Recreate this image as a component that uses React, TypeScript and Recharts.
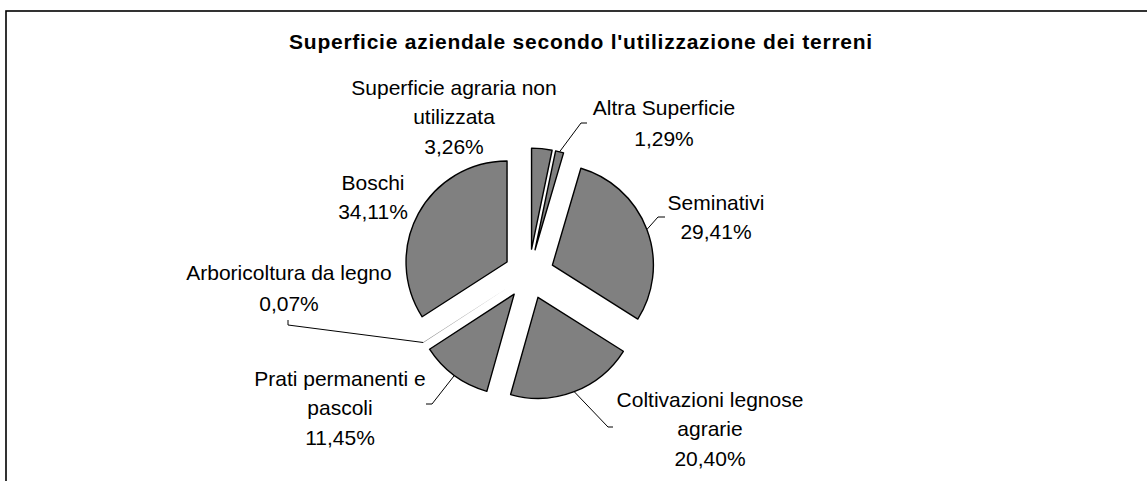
import React from 'react';
import { PieChart, Pie, Sector } from 'recharts';

// ---- data ----
const categories = [
  'Superficie agraria non utilizzata',
  'Altra Superficie',
  'Seminativi',
  'Coltivazioni legnose agrarie',
  'Prati permanenti e pascoli',
  'Arboricoltura da legno',
  'Boschi',
];
const categoryLines = [
  ['Superficie agraria non', 'utilizzata'],
  ['Altra Superficie'],
  ['Seminativi'],
  ['Coltivazioni legnose', 'agrarie'],
  ['Prati permanenti e', 'pascoli'],
  ['Arboricoltura da legno'],
  ['Boschi'],
];
const shares = [3.26, 1.29, 29.41, 20.4, 11.45, 0.07, 34.11];
const chartTitle = "Superficie aziendale secondo l'utilizzazione dei terreni";

const data = categories.map((name, i) => ({ name, value: shares[i] }));

// ---- layout (label placement relative to pie centre) ----
type LabelPos = { tx: number; ty: number; gap?: number; elbow?: [number, number]; stub?: [number, number] };
const labelLayout: LabelPos[] = [
  { tx: -75, ty: -187 },
  { tx: 135, ty: -167, gap: 31.5, elbow: [52, -151], stub: [58, -151] },
  { tx: 187, ty: -72, elbow: [129, -57], stub: [136, -57] },
  { tx: 181, ty: 125, elbow: [79, 153], stub: [84, 153] },
  { tx: -189, ty: 104, elbow: [-97, 130], stub: [-103, 130] },
  { tx: -240, ty: -2, gap: 31, elbow: [-241, 51], stub: [-241, 46] },
  { tx: -156, ty: -92 },
];

const FONT = '"Liberation Sans", Arial, Helvetica, sans-serif';
const LABEL_SIZE = 21;
const LINE_GAP = 29.8;
const EXPLODE = 25;
const RAD = Math.PI / 180;
const PIE_CX = 529;
const PIE_CY = 274;
const PIE_R = 101;

const fmt = (v: number) => v.toFixed(2).replace('.', ',') + '%';

const renderSlice = (props: any) => {
  const { cx, cy, midAngle, startAngle, endAngle, outerRadius, index, value } = props;
  const ox = cx + EXPLODE * Math.cos(-midAngle * RAD);
  const oy = cy + EXPLODE * Math.sin(-midAngle * RAD);
  const L = labelLayout[index];
  const gap = L.gap ?? LINE_GAP;
  const lines = [...categoryLines[index], fmt(Number(value))];
  const edgeX = ox + outerRadius * Math.cos(-midAngle * RAD);
  const edgeY = oy + outerRadius * Math.sin(-midAngle * RAD);
  const tiny = Math.abs(endAngle - startAngle) < 1;
  return (
    <g key={`slice-${index}`}>
      <Sector
        cx={ox}
        cy={oy}
        innerRadius={0}
        outerRadius={outerRadius}
        startAngle={startAngle}
        endAngle={endAngle}
        fill="#808080"
        stroke={tiny ? 'none' : '#000'}
        strokeWidth={1.4}
        strokeLinejoin="round"
      />
      {L.elbow && L.stub && (
        <polyline
          points={`${edgeX},${edgeY} ${cx + L.elbow[0]},${cy + L.elbow[1]} ${cx + L.stub[0]},${cy + L.stub[1]}`}
          fill="none"
          stroke="#000"
          strokeWidth={1}
        />
      )}
      <text
        textAnchor="middle"
        fontFamily={FONT}
        fontSize={LABEL_SIZE}
        fill="#000"
        stroke="none"
      >
        {lines.map((t, j) => (
          <tspan key={j} x={cx + L.tx} y={cy + L.ty + j * gap + 0.358 * LABEL_SIZE}>
            {t}
          </tspan>
        ))}
      </text>
    </g>
  );
};

export default function App() {
  return (
    <div style={{ position: 'absolute', left: 0, top: 0, width: 1147, height: 481, background: '#fff', overflow: 'hidden' }}>
      <svg width={1147} height={481} style={{ position: 'absolute', left: 0, top: 0 }}>
        <rect x={6} y={11} width={1300} height={600} fill="#fff" stroke="#000" strokeWidth={1.6} />
        <text
          x={581}
          y={49}
          textAnchor="middle"
          fontFamily={FONT}
          fontWeight="bold"
          fontSize={21}
          letterSpacing={0.75}
          fill="#000"
        >
          {chartTitle}
        </text>
      </svg>
      <div style={{ position: 'absolute', left: 0, top: 0 }}>
        <PieChart width={1147} height={481} margin={{ top: 0, right: 0, bottom: 0, left: 0 }}>
          <Pie
            data={data}
            dataKey="value"
            nameKey="name"
            cx={PIE_CX}
            cy={PIE_CY}
            outerRadius={PIE_R}
            startAngle={90}
            endAngle={-270}
            fill="none"
            stroke="none"
            label={renderSlice}
            labelLine={false}
            isAnimationActive={false}
          />
        </PieChart>
      </div>
    </div>
  );
}
